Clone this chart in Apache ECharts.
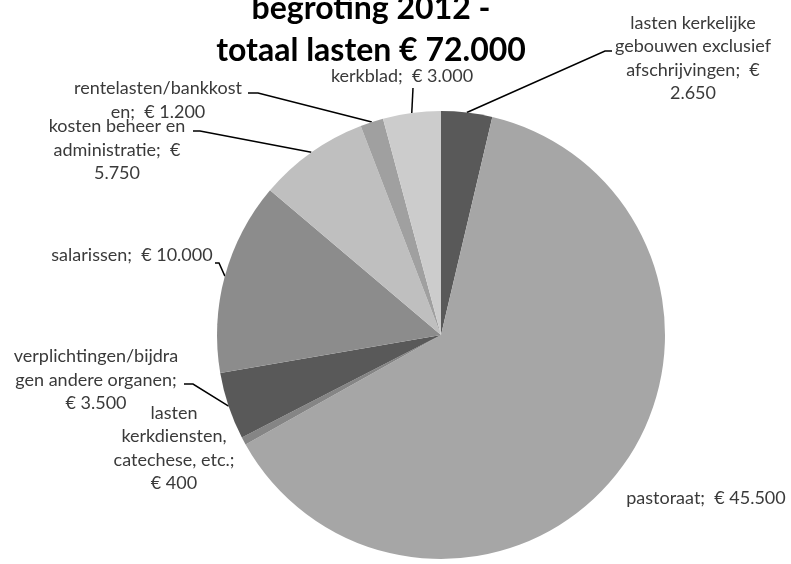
<!DOCTYPE html>
<html><head><meta charset="utf-8">
<script src="https://cdn.jsdelivr.net/npm/echarts@6/dist/echarts.min.js"></script>
<style>html,body{margin:0;padding:0;background:#fff}#c{width:791px;height:564px}</style>
</head><body><div id="c"></div>
<script>
// ---- data ----
var categories = [
  'lasten kerkelijke gebouwen exclusief afschrijvingen',
  'pastoraat',
  'lasten kerkdiensten, catechese, etc.',
  'verplichtingen/bijdragen andere organen',
  'salarissen',
  'kosten beheer en administratie',
  'rentelasten/bankkosten',
  'kerkblad'
];
var values = [2650, 45500, 400, 3500, 10000, 5750, 1200, 3000];
// label texts as wrapped in the original ({v} = value)
var labelTexts = [
  'lasten kerkelijke\ngebouwen exclusief\nafschrijvingen;  €\n{v}',
  'pastoraat;  € {v}',
  'lasten\nkerkdiensten,\ncatechese, etc.;\n€ {v}',
  'verplichtingen/bijdra\ngen andere organen;\n€ {v}',
  'salarissen;  € {v}',
  'kosten beheer en\nadministratie;  €\n{v}',
  'rentelasten/bankkost\nen;  € {v}',
  'kerkblad;  € {v}'
];
var titleLines = ['begroting 2012 -', 'totaal lasten € 72.000'];

// ---- styles / layout ----
var colors = ['#595959', '#a6a6a6', '#858585', '#595959', '#8c8c8c', '#bfbfbf', '#a0a0a0', '#cccccc'];
var noLine = {1: true, 2: true};
// label anchor (center) and label-line bend/end points
var labelPos = [
  {x: 693, y: 58, pts: [[605, 51], [612, 51]]},
  {x: 706, y: 498},
  {x: 174, y: 448},
  {x: 96, y: 380, pts: [[193, 384], [184, 384]]},
  {x: 132, y: 255, pts: [[219, 263], [215, 263]]},
  {x: 117, y: 150, pts: [[200, 131], [193, 131]]},
  {x: 158, y: 100, pts: [[258, 93], [248, 93]]},
  {x: 402, y: 76, pts: [[413, 88]]}
];

function fmt(v) { return String(v).replace(/\B(?=(\d{3})+(?!\d))/g, '.'); }

var data = categories.map(function (c, i) {
  var d = {name: c, value: values[i], itemStyle: {color: colors[i]}};
  if (noLine[i]) d.labelLine = {show: false};
  return d;
});

var chart = echarts.init(document.getElementById('c'), null, {renderer: 'canvas'});
chart.setOption({
  animation: false,
  backgroundColor: '#ffffff',
  title: {
    text: titleLines.join('\n'),
    left: 371, top: -12, padding: 0, textAlign: 'center',
    textStyle: {fontFamily: 'Lato', fontWeight: 'bold', fontSize: 32, lineHeight: 42, color: '#000'}
  },
  series: [{
    type: 'pie',
    center: [441, 335],
    radius: 224,
    startAngle: 90,
    clockwise: true,
    avoidLabelOverlap: false,
    data: data,
    label: {
      show: true,
      position: 'outside',
      fontFamily: 'Lato',
      fontSize: 18,
      lineHeight: 23.5,
      color: '#3a3a3a',
      align: 'center',
      formatter: function (p) { return labelTexts[p.dataIndex].replace('{v}', fmt(p.value)); }
    },
    labelLine: {show: true, length: 10, length2: 10, lineStyle: {color: '#000', width: 1.5}},
    labelLayout: function (p) {
      var lp = labelPos[p.dataIndex];
      var res = {x: lp.x, y: lp.y, align: 'center', verticalAlign: 'middle'};
      if (lp.pts && p.labelLinePoints) {
        res.labelLinePoints = [p.labelLinePoints[0]].concat(lp.pts);
      }
      return res;
    }
  }]
});
</script></body></html>
